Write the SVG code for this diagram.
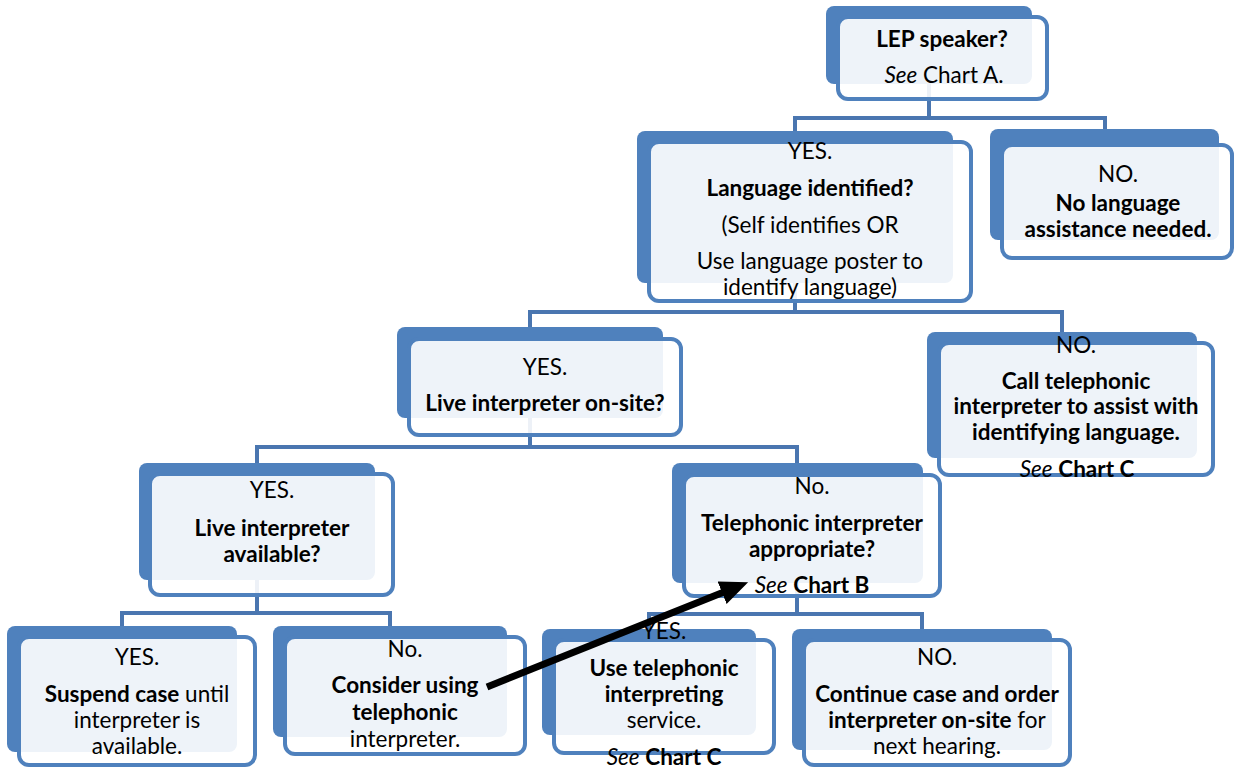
<svg xmlns="http://www.w3.org/2000/svg" width="1236" height="770" viewBox="0 0 1236 770">
<defs>
<style>
.back{fill:#4F81BD;}
.front{fill:#FFFFFF;fill-opacity:0.9;stroke:#4F81BD;stroke-width:4;}
.conn{fill:none;stroke:#4A76B0;stroke-width:4;}
text{font-family:Lato,"Liberation Sans",sans-serif;font-size:22.5px;fill:#000;text-anchor:middle;}
.b{font-weight:700;}
.i{font-style:italic;}
</style>
<marker id="ah" markerUnits="userSpaceOnUse" markerWidth="28" markerHeight="24" refX="2" refY="12" orient="auto">
<path d="M0,0 L28,12 L0,24 z" fill="#000"/>
</marker>
</defs>
<rect width="1236" height="770" fill="#FFFFFF"/>
<g id="connectors">
<path class="conn" d="M929 84 V118 M795 131 V118 H1105 V129"/>
<path class="conn" d="M795 283 V312 M530 327 V312 H1062 V332"/>
<path class="conn" d="M530 418 V447 M257 463 V447 H797 V463"/>
<path class="conn" d="M257 580 V613 M122 626 V613 H390 V626"/>
<path class="conn" d="M797 583 V614 M649 629 V614 H922 V629"/>
</g>
<g id="n-lep">
<rect class="back" x="826" y="6" width="206" height="78" rx="8"/>
<rect class="front" x="838" y="17" width="209" height="82" rx="10"/>
<text x="942" y="47" class="b">LEP speaker?</text>
<text x="944" y="83"><tspan class="i">See</tspan> Chart A.</text>
</g>
<g id="n-lang">
<rect class="back" x="637" y="131" width="316" height="152" rx="8"/>
<rect class="front" x="649" y="142" width="322" height="159" rx="10"/>
<text x="810" y="159">YES.</text>
<text x="810" y="196" class="b">Language identified?</text>
<text x="810" y="233">(Self identifies OR</text>
<text x="810" y="269">Use language poster to</text>
<text x="810" y="295">identify language)</text>
</g>
<g id="n-nolang">
<rect class="back" x="990" y="129" width="229" height="111" rx="8"/>
<rect class="front" x="1002" y="145" width="230" height="113" rx="10"/>
<text x="1118" y="182">NO.</text>
<text x="1118" y="211" class="b">No language</text>
<text x="1118" y="237" class="b">assistance needed.</text>
</g>
<g id="n-onsite">
<rect class="back" x="397" y="327" width="266" height="91" rx="8"/>
<rect class="front" x="409" y="339" width="272" height="96" rx="10"/>
<text x="545" y="375">YES.</text>
<text x="545" y="411" class="b">Live interpreter on-site?</text>
</g>
<g id="n-calltel">
<rect class="back" x="927" y="332" width="270" height="126" rx="8"/>
<rect class="front" x="939" y="343" width="274" height="132" rx="10"/>
<text x="1076" y="353">NO.</text>
<text x="1076" y="389" class="b">Call telephonic</text>
<text x="1076" y="414" class="b">interpreter to assist with</text>
<text x="1076" y="440" class="b">identifying language.</text>
<text x="1077" y="477"><tspan class="i">See</tspan> <tspan class="b">Chart C</tspan></text>
</g>
<g id="n-liveavail">
<rect class="back" x="139" y="463" width="236" height="117" rx="8"/>
<rect class="front" x="150" y="474" width="243" height="121" rx="10"/>
<text x="272" y="498">YES.</text>
<text x="272" y="536" class="b">Live interpreter</text>
<text x="272" y="562" class="b">available?</text>
</g>
<g id="n-telapprop">
<rect class="back" x="672" y="463" width="251" height="120" rx="8"/>
<rect class="front" x="684" y="475" width="256" height="121" rx="10"/>
<text x="812" y="494">No.</text>
<text x="812" y="531" class="b">Telephonic interpreter</text>
<text x="812" y="557" class="b">appropriate?</text>
<text x="812" y="593"><tspan class="i">See</tspan> <tspan class="b">Chart B</tspan></text>
</g>
<g id="n-suspend">
<rect class="back" x="7" y="626" width="230" height="126" rx="8"/>
<rect class="front" x="19" y="637" width="236" height="128" rx="10"/>
<text x="137" y="665">YES.</text>
<text x="137" y="702"><tspan class="b">Suspend case</tspan> until</text>
<text x="137" y="728">interpreter is</text>
<text x="137" y="754">available.</text>
</g>
<g id="n-consider">
<rect class="back" x="273" y="626" width="234" height="111" rx="8"/>
<rect class="front" x="285" y="637" width="240" height="117" rx="10"/>
<text x="405" y="657">No.</text>
<text x="405" y="693" class="b">Consider using</text>
<text x="405" y="720" class="b">telephonic</text>
<text x="405" y="747">interpreter.</text>
</g>
<g id="n-usetel">
<rect class="back" x="542" y="629" width="214" height="106" rx="8"/>
<rect class="front" x="554" y="640" width="220" height="113" rx="10"/>
<text x="664" y="639">YES.</text>
<text x="664" y="676" class="b">Use telephonic</text>
<text x="664" y="702" class="b">interpreting</text>
<text x="664" y="728">service.</text>
<text x="664" y="765"><tspan class="i">See</tspan> <tspan class="b">Chart C</tspan></text>
</g>
<g id="n-continue">
<rect class="back" x="792" y="629" width="260" height="121" rx="8"/>
<rect class="front" x="804" y="640" width="266" height="125" rx="10"/>
<text x="937" y="665">NO.</text>
<text x="937" y="702" class="b">Continue case and order</text>
<text x="937" y="728"><tspan class="b">interpreter on-site</tspan> for</text>
<text x="937" y="754">next hearing.</text>
</g>
<g id="arrow">
<line x1="487" y1="687" x2="724" y2="592" stroke="#000" stroke-width="7" marker-end="url(#ah)"/>
</g>
</svg>
